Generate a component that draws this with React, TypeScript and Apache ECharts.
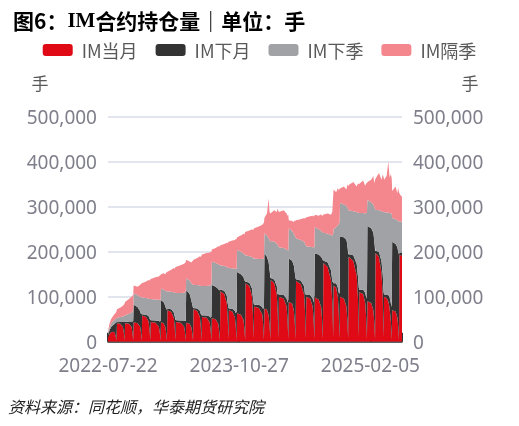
import React, { useEffect, useRef } from 'react';
import * as echarts from 'echarts';

// Trading-day index counted from 2022-07-22 (index 0)
const tradingDayIndex = [
  0, 3, 7, 12, 16, 18, 20,
  21, 29, 35, 37, 39,
  40, 49, 55, 57, 59,
  60, 69, 75, 77, 79,
  80, 89, 95, 97, 99,
  100, 111, 119, 121, 123,
  124, 130, 134, 136, 138,
  139, 148, 154, 156, 158,
  159, 170, 178, 180, 182,
  183, 191, 195, 197, 199,
  200, 209, 215, 217, 219,
  220, 231, 238, 240, 242,
  243, 252, 258, 260, 262,
  263, 272, 278, 280, 282,
  283, 291, 297, 299, 301,
  302, 311, 317, 319, 321,
  322, 331, 337, 339, 341,
  342, 353, 361, 363, 365,
  366, 372, 376, 378, 380,
  381, 389, 395, 397, 399,
  400, 411, 418, 420, 422,
  423, 431, 435, 437, 439,
  440, 451, 459, 461, 463,
  464, 473, 479, 481, 483,
  484, 493, 499, 501, 503,
  504, 514, 522, 525, 527,
  528, 534, 538, 540, 542,
  543, 552, 558, 560, 562,
  563, 574, 582, 585, 587,
  588, 597, 602, 604, 606,
  607, 616, 621, 623, 625,
  626, 634, 640, 643, 645,
  646, 652, 656, 659, 662, 664,
  665, 673, 677, 679, 681,
  682, 685, 688,
];

// Open interest, thousand lots (千手)
const imCurrentMonth = [
  10, 16, 21, 22, 20, 12, 3,
  41, 40, 32, 21, 3,
  41, 40, 33, 22, 3,
  43, 41, 34, 22, 3,
  58, 55, 45, 30, 4,
  44, 42, 34, 22, 3,
  43, 41, 33, 21, 3,
  70, 66, 53, 35, 4,
  44, 42, 34, 22, 3,
  42, 40, 32, 21, 3,
  72, 68, 55, 36, 4,
  55, 53, 43, 28, 4,
  52, 50, 40, 26, 4,
  112, 106, 86, 56, 6,
  70, 67, 54, 35, 4,
  63, 60, 49, 32, 4,
  130, 123, 100, 65, 7,
  78, 75, 61, 40, 5,
  74, 71, 58, 38, 5,
  137, 130, 106, 69, 7,
  100, 96, 78, 51, 6,
  88, 85, 69, 45, 6,
  135, 128, 105, 68, 7,
  100, 96, 78, 51, 6,
  98, 94, 76, 50, 6,
  175, 166, 136, 88, 9,
  125, 120, 98, 64, 7,
  100, 96, 78, 51, 6,
  189, 180, 147, 95, 10,
  110, 106, 86, 56, 6,
  90, 86, 70, 46, 5,
  197, 188, 153, 99, 10,
  100, 97, 90, 75, 45, 5,
  70, 67, 55, 36, 4,
  193, 192, 190,
];

const imNextMonth = [
  4, 8, 11, 15, 20, 30, 41,
  2, 4, 12, 23, 41,
  3, 5, 12, 23, 43,
  39, 36, 34, 40, 58,
  3, 5, 12, 22, 44,
  3, 5, 12, 23, 43,
  49, 47, 47, 52, 68,
  3, 6, 12, 22, 44,
  3, 5, 13, 24, 43,
  73, 66, 60, 62, 72,
  3, 6, 14, 26, 55,
  3, 5, 13, 25, 52,
  74, 72, 77, 88, 112,
  4, 7, 16, 30, 70,
  4, 6, 14, 28, 63,
  92, 90, 95, 105, 130,
  4, 8, 18, 34, 78,
  4, 7, 16, 32, 74,
  122, 118, 118, 122, 137,
  4, 8, 18, 36, 100,
  4, 8, 18, 36, 88,
  97, 95, 100, 110, 135,
  4, 8, 18, 36, 100,
  4, 8, 18, 36, 98,
  98, 100, 112, 135, 175,
  5, 10, 22, 45, 125,
  5, 10, 22, 45, 100,
  133, 136, 148, 165, 189,
  5, 12, 26, 50, 110,
  5, 10, 22, 44, 90,
  167, 166, 172, 180, 197,
  5, 12, 26, 50, 100,
  5, 8, 14, 24, 40, 72,
  152, 150, 155, 165, 190,
  5, 6, 8,
];

const imNextQuarter = [
  4, 6, 8, 9, 9, 9, 9,
  10, 11, 12, 13, 14,
  15, 17, 20, 22, 24,
  25, 27, 32, 37, 37,
  37, 37, 39, 43, 47,
  48, 47, 47, 48, 47,
  26, 28, 33, 39, 41,
  39, 39, 45, 52, 60,
  61, 61, 62, 64, 65,
  26, 30, 38, 45, 51,
  51, 52, 56, 62, 65,
  66, 66, 69, 73, 70,
  52, 53, 55, 57, 54,
  54, 55, 64, 79, 88,
  90, 90, 94, 99, 95,
  49, 50, 52, 57, 58,
  58, 59, 70, 87, 100,
  103, 102, 107, 113, 107,
  45, 47, 54, 66, 80,
  83, 84, 94, 110, 105,
  106, 104, 109, 117, 108,
  67, 66, 71, 81, 91,
  91, 90, 99, 114, 107,
  108, 107, 114, 123, 106,
  59, 56, 58, 59, 62,
  62, 64, 79, 103, 106,
  120, 125, 138, 153, 158,
  75, 73, 76, 82, 100,
  98, 98, 115, 142, 166,
  171, 170, 177, 186, 190,
  58, 58, 63, 74, 93,
  91, 92, 111, 140, 178,
  183, 182, 183, 187, 200, 208,
  53, 55, 60, 67, 72,
  70, 69, 68,
];

const imFarQuarter = [
  4, 8, 10, 11, 13, 13, 15,
  19, 21, 24, 25, 27,
  29, 33, 35, 35, 35,
  18, 18, 26, 29, 32,
  33, 37, 41, 41, 44,
  45, 49, 52, 54, 55,
  32, 36, 37, 41, 43,
  44, 49, 54, 53, 58,
  58, 62, 64, 65, 66,
  41, 42, 46, 51, 54,
  56, 60, 65, 64, 68,
  70, 73, 73, 73, 74,
  27, 33, 40, 40, 44,
  45, 49, 54, 54, 58,
  59, 62, 64, 66, 66,
  28, 36, 44, 44, 52,
  53, 57, 62, 62, 65,
  67, 72, 76, 77, 79,
  34, 49, 88, 62, 63,
  62, 70, 70, 81, 78,
  78, 84, 80, 76, 80,
  18, 22, 26, 34, 36,
  40, 46, 53, 55, 62,
  64, 68, 70, 68, 70,
  27, 30, 37, 35, 39,
  41, 45, 45, 54, 85,
  88, 77, 84, 74, 75,
  32, 40, 36, 52, 50,
  56, 65, 57, 65, 64,
  64, 72, 61, 66, 66,
  40, 50, 63, 52, 65,
  69, 83, 70, 83, 77,
  72, 81, 113, 79, 87, 77,
  60, 73, 60, 74, 66,
  62, 58, 56,
];

const seriesNames = ['IM当月', 'IM下月', 'IM下季', 'IM隔季'];
const seriesColors = ['#E00A16', '#333333', '#A0A2A6', '#F4868D'];
const xTickIndex = [0, 307, 614];
const xTickLabels = ['2022-07-22', '2023-10-27', '2025-02-05'];
const yTickValues = [0, 100, 200, 300, 400, 500];
const yTickLabels = ['0', '100,000', '200,000', '300,000', '400,000', '500,000'];
const lastDay = 688;

const CJK = "'Noto Sans CJK SC', sans-serif";
const LATIN = "'Noto Sans', 'Noto Sans CJK SC', sans-serif";

export default function App() {
  const ref = useRef<HTMLDivElement>(null);

  useEffect(() => {
    if (!ref.current) return;
    const chart = echarts.init(ref.current, null, { renderer: 'svg' });
    const values = [imCurrentMonth, imNextMonth, imNextQuarter, imFarQuarter];
    const labelStyle = { color: '#7F7F8B', fontSize: 19, lineHeight: 19, fontFamily: LATIN };
    const yLabelFormatter = (v: number) => {
      const k = yTickValues.indexOf(v);
      return k >= 0 ? yTickLabels[k] : '';
    };
    const yAxisBase = {
      type: 'value',
      min: 0,
      max: 500,
      interval: 100,
      name: '手',
      nameLocation: 'end',
      nameGap: 26,
      axisLine: { show: false },
      axisTick: { show: false },
    };

    chart.setOption({
      animation: false,
      title: {
        text: '{a|图6：}{b|IM}{a|合约持仓量｜单位：手}',
        left: 8,
        top: 4,
        textStyle: {
          fontSize: 21,
          fontWeight: 'bold',
          color: '#000',
          rich: {
            a: { fontSize: 21, fontWeight: 'bold', color: '#000', fontFamily: CJK },
            b: { fontSize: 21, fontWeight: 'bold', color: '#000', fontFamily: "'Liberation Serif', serif" },
          },
        },
      },
      legend: {
        top: 36,
        left: 'center',
        itemWidth: 30,
        itemHeight: 12,
        itemGap: 18,
        icon: 'roundRect',
        data: seriesNames,
        textStyle: { fontSize: 18, color: '#595959', fontFamily: CJK, padding: [0, 0, 0, 4] },
      },
      grid: { left: 108, right: 117, top: 116.7, bottom: 84.3 },
      xAxis: [
        {
          // trading-day scale used by the series (time-typed so stacking applies to OI)
          type: 'time',
          position: 'bottom',
          min: 0,
          max: lastDay,
          show: false,
        },
        {
          // label axis on the same trading-day range
          type: 'value',
          position: 'bottom',
          min: 0,
          max: lastDay,
          interval: 307,
          splitLine: { show: false },
          axisLine: { show: true, onZero: false, lineStyle: { color: '#333333', width: 1.5 } },
          axisTick: { show: true, inside: true, length: 9, lineStyle: { color: '#333333', width: 2 } },
          axisLabel: {
            ...labelStyle,
            margin: 14,
            showMaxLabel: true,
            formatter: (v: number) => {
              const k = xTickIndex.indexOf(v);
              return k >= 0 ? xTickLabels[k] : '';
            },
          },
        },
      ],
      yAxis: [
        {
          ...yAxisBase,
          position: 'left',
          nameTextStyle: { color: '#595959', fontSize: 17, fontFamily: CJK, align: 'center', padding: [0, 136, 0, 0] },
          splitLine: { show: true, lineStyle: { color: '#DADDE8', width: 1.5 } },
          axisLabel: { ...labelStyle, margin: 11, formatter: yLabelFormatter },
        },
        {
          ...yAxisBase,
          position: 'right',
          nameTextStyle: { color: '#595959', fontSize: 17, fontFamily: CJK, align: 'center', padding: [0, 0, 0, 136] },
          splitLine: { show: false },
          axisLabel: { ...labelStyle, margin: 11, formatter: yLabelFormatter },
        },
      ],
      series: seriesNames.map((name, i) => ({
        name,
        type: 'line',
        stack: 'oi',
        xAxisIndex: 0,
        yAxisIndex: 0,
        symbol: 'none',
        showSymbol: false,
        lineStyle: { width: 0, color: seriesColors[i] },
        itemStyle: { color: seriesColors[i] },
        areaStyle: { color: seriesColors[i], opacity: 1 },
        data: tradingDayIndex.map((d, j) => [d, values[i][j]]),
      })),
      graphic: [
        {
          type: 'text',
          left: 8,
          top: 398,
          style: {
            text: '资料来源：同花顺，华泰期货研究院',
            font: `italic 16px ${CJK}`,
            fill: '#222222',
          },
        },
      ],
    });

    return () => chart.dispose();
  }, []);

  return <div ref={ref} style={{ position: 'fixed', left: 0, top: 0, width: 519, height: 426 }} />;
}
